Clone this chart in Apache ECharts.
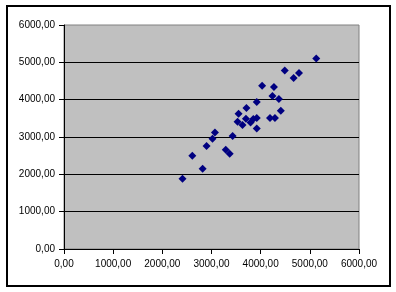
<!DOCTYPE html>
<html>
<head>
<meta charset="utf-8">
<script src="https://cdn.jsdelivr.net/npm/echarts@6/dist/echarts.min.js"></script>
<style>html,body{margin:0;padding:0;background:#fff}#c{width:396px;height:292px}</style>
</head>
<body>
<div id="c"></div>
<script>
var xValues = [2410, 2610, 2820, 2900, 3020, 3070, 3290, 3370, 3430, 3530, 3550, 3630, 3700, 3710, 3795, 3850, 3920, 3920, 3920, 4030, 4190, 4240, 4270, 4290, 4370, 4410, 4490, 4670, 4780, 5130];
var yValues = [1880, 2500, 2150, 2760, 2950, 3120, 2660, 2550, 3030, 3410, 3620, 3320, 3490, 3780, 3390, 3480, 3510, 3230, 3940, 4370, 3510, 4100, 4340, 3510, 4020, 3700, 4780, 4580, 4715, 5100];
var axisMin = 0, axisMax = 6000, axisStep = 1000;

var points = xValues.map(function (x, i) { return [x, yValues[i]]; });
function fmt(v) { return v.toFixed(2).replace('.', ','); }
var font = { fontFamily: 'Liberation Sans, Arial, sans-serif', fontSize: 10, color: '#000' };

var chart = echarts.init(document.getElementById('c'), null, { renderer: 'canvas' });
chart.setOption({
  animation: false,
  backgroundColor: '#fff',
  grid: { left: 64, right: 37, top: 25, bottom: 43, show: true, backgroundColor: '#c0c0c0', borderColor: '#808080', borderWidth: 1 },
  xAxis: {
    type: 'value', min: axisMin, max: axisMax, interval: axisStep,
    axisLine: { show: true, onZero: false, lineStyle: { color: '#000', width: 1 } },
    axisTick: { show: true, inside: false, length: 5, lineStyle: { color: '#000' } },
    axisLabel: Object.assign({ margin: 10, formatter: fmt }, font),
    splitLine: { show: false }
  },
  yAxis: {
    type: 'value', min: axisMin, max: axisMax, interval: axisStep,
    axisLine: { show: true, onZero: false, lineStyle: { color: '#000', width: 1 } },
    axisTick: { show: true, inside: false, length: 5, lineStyle: { color: '#000' } },
    axisLabel: Object.assign({ margin: 9, formatter: fmt }, font),
    splitLine: { show: true, showMinLine: false, showMaxLine: false, lineStyle: { color: '#000', width: 1 } }
  },
  series: [{
    type: 'scatter',
    data: points,
    symbol: 'diamond',
    symbolSize: [8, 8],
    itemStyle: { color: '#000080', opacity: 1 }
  }],
  graphic: [{
    type: 'rect', silent: true,
    shape: { x: 7, y: 6, width: 383, height: 280 },
    style: { fill: 'none', stroke: '#000', lineWidth: 2 }
  }]
});
</script>
</body>
</html>
